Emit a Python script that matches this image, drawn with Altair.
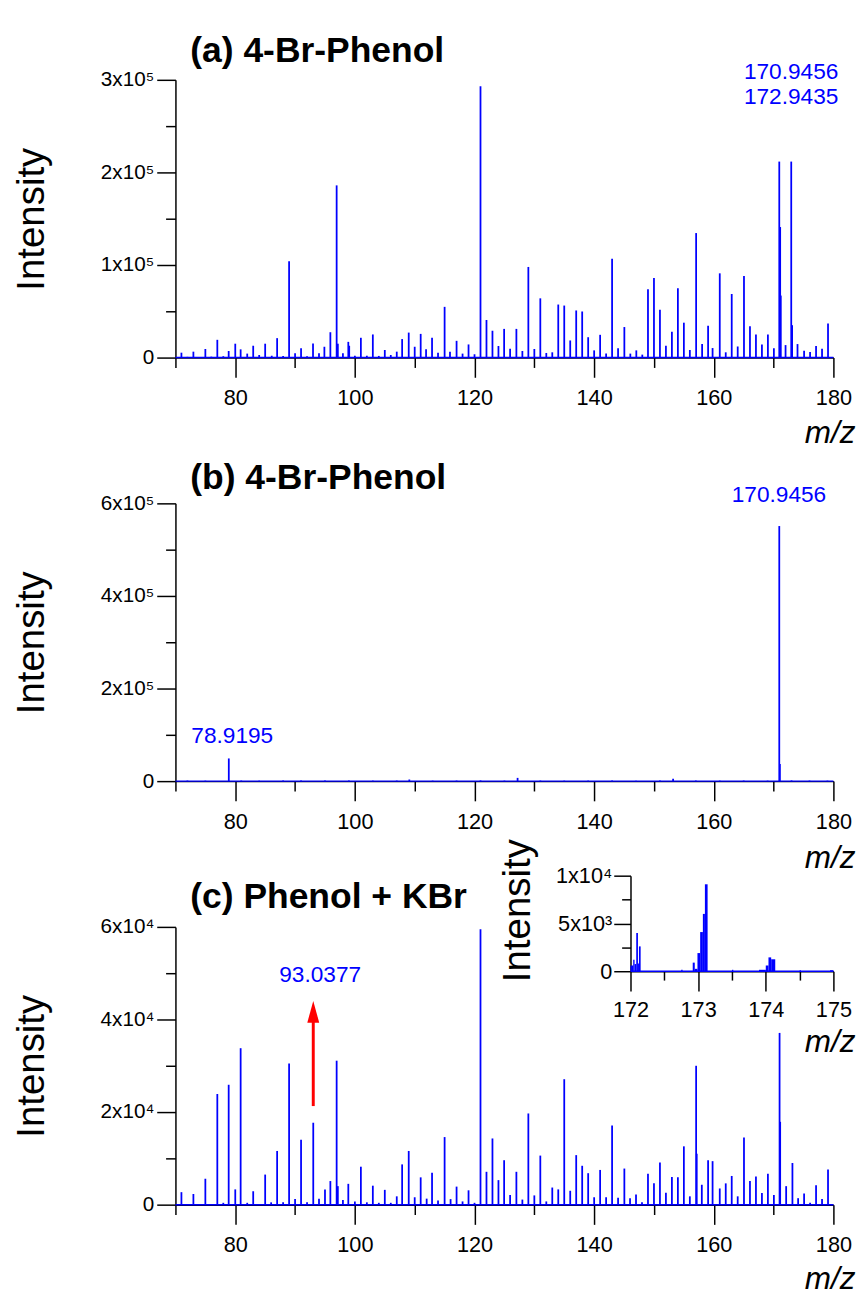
import altair as alt
import pandas as pd

BLUE = "#0000FF"
RED = "#FF0000"
FONT = "Liberation Sans, Arial, DejaVu Sans, sans-serif"

# ---------------- data ----------------
# panel (a) 4-Br-Phenol
a_mz = [71.0, 72.0, 73.0, 74.0, 75.0, 76.0, 77.0, 78.0, 78.9, 80.0, 80.9, 82.0, 83.0, 84.0, 85.0, 86.1, 87.0, 88.0,
        89.0, 90.0, 91.0, 92.0, 93.0, 94.0, 94.9, 95.9, 96.95, 97.15, 98.0, 98.9, 99.05, 100.0, 101.0, 102.0, 103.0,
        104.0, 105.0, 106.0, 107.0, 107.9, 109.0, 110.0, 111.0, 111.9, 112.9, 113.9, 115.0, 115.9, 117.0, 118.0,
        119.0, 120.0, 121.0, 122.0, 123.0, 124.0, 124.95, 125.95, 127.0, 128.0, 129.0, 130.0, 131.0, 132.0, 133.0,
        134.0, 135.0, 136.0, 137.0, 138.0, 139.0, 140.0, 141.0, 142.0, 143.0, 144.0, 145.05, 146.05, 147.05, 148.05,
        149.0, 150.0, 151.0, 152.0, 153.0, 154.0, 155.0, 156.0, 157.05, 158.05, 159.05, 159.8, 161.0, 162.0, 163.0,
        164.0, 165.05, 166.05, 167.05, 168.05, 169.05, 170.05, 170.95, 171.1, 171.2, 172.0, 172.95, 173.1, 174.0,
        175.1, 176.1, 177.1, 178.1, 179.1]
a_int = [5300, 800, 6400, 600, 9300, 1000, 19200, 1500, 7100, 15000, 8900, 4300, 12800, 2800, 15000, 2000, 21000, 1800,
         104000, 4600, 10000, 1400, 15300, 4600, 11700, 27400, 186000, 15000, 4600, 17000, 12800, 2000, 21400, 2000,
         25000, 1800, 8200, 2800, 6400, 20000, 27000, 11700, 25600, 8900, 21400, 5300, 54800, 6400, 18100, 4300,
         14200, 3600, 293000, 40600, 29000, 12500, 31000, 9500, 31000, 7100, 97900, 9300, 64000, 5000, 5700,
         57300, 56200, 18500, 50900, 49800, 22000, 7800, 24600, 4300, 106800, 10000, 33000, 4300, 7800, 3200,
         73700, 86000, 51600, 12800, 28000, 75000, 37700, 8200, 134500, 14600, 34500, 10300, 91000, 5700, 68700,
         12000, 88000, 33800, 24900, 14200, 24900, 10000, 211700, 141000, 67000, 13500, 211700, 35000, 14600,
         7500, 6000, 12500, 9600, 36700]
a_ann_mz = [180, 180]
a_ann_int = [308500, 281000]
a_ann_txt = ["170.9456", "172.9435"]

# panel (b) 4-Br-Phenol
b_mz = [72.0, 75.0, 78.92, 81.0, 84.0, 88.0, 91.0, 95.0, 99.0, 103.0, 107.0, 109.1, 113.0, 117.0, 121.0, 125.0,
        127.2, 131.0, 135.0, 139.0, 143.0, 147.0, 151.0, 153.2, 157.0, 161.0, 165.0, 169.0, 170.95, 171.05, 173.0,
        176.0, 179.0]
b_int = [1200, 1000, 49000, 1200, 1000, 1300, 1100, 1200, 1300, 1100, 1200, 3500, 1000, 1200, 1500, 1100,
         7000, 1200, 1000, 1100, 1300, 1000, 1200, 5000, 1300, 1100, 1200, 1000, 551000, 37000, 1500,
         1200, 1000]
b_ann_mz = [170.9, 79.5]
b_ann_int = [617000, 98000]
b_ann_txt = ["170.9456", "78.9195"]

# panel (c) Phenol + KBr
c_mz = [71.0, 73.0, 75.0, 77.0, 78.0, 78.9, 80.0, 80.9, 82.0, 83.0, 85.0, 86.0, 87.0, 88.0, 89.0, 90.0, 91.0, 92.0,
        93.04, 94.0, 95.0, 95.9, 96.95, 97.15, 98.0, 98.9, 100.0, 101.0, 102.0, 103.0, 104.0, 105.0, 106.0, 107.0,
        107.9, 109.0, 110.0, 111.0, 112.0, 112.9, 113.9, 115.0, 116.0, 117.0, 118.0, 119.0, 120.0, 121.0, 122.0,
        123.0, 124.0, 124.95, 125.95, 127.0, 128.0, 129.0, 130.0, 131.0, 132.0, 133.0, 134.0, 135.0, 136.0, 137.0,
        138.0, 139.0, 140.0, 141.0, 142.0, 143.0, 144.0, 145.05, 146.0, 147.0, 148.0, 149.0, 150.0, 151.0, 152.0,
        153.0, 154.0, 155.0, 156.0, 157.05, 157.15, 158.0, 159.05, 159.8, 161.0, 162.0, 163.0, 164.0, 165.05,
        166.05, 167.05, 168.05, 169.05, 170.05, 171.0, 171.1, 172.1, 173.15, 174.1, 175.1, 176.1, 177.1, 178.1,
        179.1]
c_int = [2700, 2300, 5600, 23900, 400, 25900, 3300, 33800, 400, 2900, 6500, 500, 11600, 500, 30500, 1200, 14000, 500,
         17700, 1300, 3300, 5100, 31100, 4000, 1000, 4500, 700, 8200, 500, 4100, 400, 3200, 400, 1800,
         8700, 11600, 1600, 5900, 1300, 6900, 900, 14600, 1200, 3900, 700, 3100, 400, 59500, 7100,
         14300, 5300, 9600, 2100, 7100, 1100, 19700, 2000, 10600, 700, 3700, 3300, 27100, 3000, 10700,
         8400, 6800, 1600, 7500, 1600, 17100, 1500, 7800, 1400, 2200, 500, 6700, 4600, 9100, 2600,
         6000, 5900, 12600, 1800, 30000, 11000, 4300, 9600, 9400, 3500, 4600, 6200, 1800, 14500,
         5100, 6100, 2500, 6700, 2100, 37100, 17900, 4000, 9000, 1400, 2400, 400, 4200, 1200,
         7600]
c_ann_mz = [94.2]
c_ann_int = [49500]
c_ann_txt = ["93.0377"]
arrow_mz = [93.04]
arrow_from = [21300]
arrow_to = [40500]
arrow_tip = [44000]

# inset of (c): m/z 172-175 profile segments
in_start = [172.00, 172.04, 172.06, 172.085, 172.11, 172.125, 172.75, 172.92, 172.95, 172.99, 173.03, 173.07,
            173.10, 173.50, 173.90, 174.00, 174.04, 174.08, 174.50, 174.95]
in_end = [172.04, 172.06, 172.085, 172.11, 172.125, 172.15, 172.77, 172.95, 172.99, 173.03, 173.07, 173.10,
          173.14, 173.52, 174.00, 174.04, 174.08, 174.14, 174.52, 175.00]
in_int = [600, 1200, 750, 4000, 800, 2600, 150, 900, 250, 1900, 4100, 6000,
          9100, 150, 150, 600, 1450, 1250, 100, 100]

# ---------------- helpers ----------------
XS = alt.Scale(domain=[70, 180], nice=False, zero=False)
W, H = 668, 282
TITLE_FS = 36
INT_FS = 39
ANN_FS = 23


def text_title(label, ty):
    return alt.Chart(pd.DataFrame({"t": [label]})).mark_text(
        align="left", baseline="middle", fontSize=TITLE_FS, fontWeight="bold", font=FONT, color="black"
    ).encode(text="t:N", x=alt.value(15), y=alt.value(ty))


def spectrum_layers(mz, inten, ymax, y_major, y_minor, y_expr, mz_title_y):
    ys = alt.Scale(domain=[0, ymax], nice=False, zero=True)
    df = pd.DataFrame({"mz": mz, "inten": inten})
    x_major = alt.Axis(orient="bottom", values=[80, 100, 120, 140, 160, 180], tickSize=20, labelPadding=11,
                       labelFontSize=22, format="d", labelFlush=False, labelOverlap=False, grid=False,
                       title="m/z", titleFontStyle="italic", titleFontSize=32, titleFontWeight="normal",
                       titleX=690, titleY=mz_title_y, titleAlign="right", titleBaseline="middle")
    y_major_ax = alt.Axis(orient="left", values=y_major, tickSize=19, labelExpr=y_expr, labelFontSize=21,
                          labelPadding=3, labelOverlap=False, labelFlush=False, grid=False,
                          title="Intensity", titleFontSize=INT_FS, titleFontWeight="normal",
                          titleX=-146, titleY=141, titleAngle=270, titleAlign="center", titleBaseline="middle")
    x_minor = alt.Axis(orient="bottom", values=[70, 90, 110, 130, 150, 170], tickSize=10, labels=False,
                       domain=False, grid=False, title=None)
    y_minor_ax = alt.Axis(orient="left", values=y_minor, tickSize=10, labels=False, domain=False, grid=False,
                          title=None)

    sticks = alt.Chart(df).mark_rule(color=BLUE, strokeWidth=1.8).encode(
        x=alt.X("mz:Q", scale=XS, axis=x_major),
        y=alt.Y("inten:Q", scale=ys, axis=y_major_ax),
        y2=alt.datum(0),
    )
    base = alt.Chart(pd.DataFrame({"mz": [70], "mz2": [180], "inten": [0]})).mark_rule(
        color=BLUE, strokeWidth=1.5
    ).encode(
        x=alt.X("mz:Q", scale=XS, axis=x_minor),
        x2="mz2:Q",
        y=alt.Y("inten:Q", scale=ys, axis=y_minor_ax),
    )
    return ys, [base, sticks]


def annotations(ys, mzs, ints, txts, align, dx):
    df = pd.DataFrame({"mz": mzs, "inten": ints, "label": txts})
    return alt.Chart(df).mark_text(align=align, baseline="middle", fontSize=ANN_FS, font=FONT, color=BLUE,
                                   dx=dx).encode(
        x=alt.X("mz:Q", scale=XS, axis=None),
        y=alt.Y("inten:Q", scale=ys, axis=None),
        text="label:N",
    )


# ---------------- panel (a) ----------------
ys_a, lay_a = spectrum_layers(a_mz, a_int, 300000, [0, 100000, 200000, 300000], [50000, 150000, 250000],
                              "datum.value == 0 ? '0' : format(datum.value / 100000, 'd') + 'x10⁵'", 76)
pa = alt.layer(
    *lay_a,
    annotations(ys_a, a_ann_mz, a_ann_int, a_ann_txt, "right", 5),
    text_title("(a) 4-Br-Phenol", -29),
).resolve_axis(x="independent", y="independent").properties(width=W, height=H)

# ---------------- panel (b) ----------------
ys_b, lay_b = spectrum_layers(b_mz, b_int, 600000, [0, 200000, 400000, 600000], [100000, 300000, 500000],
                              "datum.value == 0 ? '0' : format(datum.value / 100000, 'd') + 'x10⁵'", 78)
pb = alt.layer(
    *lay_b,
    annotations(ys_b, b_ann_mz, b_ann_int, b_ann_txt, "center", 0),
    text_title("(b) 4-Br-Phenol", -26),
).resolve_axis(x="independent", y="independent").properties(width=W, height=H)

# ---------------- panel (c) ----------------
ys_c, lay_c = spectrum_layers(c_mz, c_int, 60000, [0, 20000, 40000, 60000], [10000, 30000, 50000],
                              "datum.value == 0 ? '0' : format(datum.value / 10000, 'd') + 'x10⁴'", 75)
arrow_df = pd.DataFrame({"mz": arrow_mz, "y0": arrow_from, "y1": arrow_to, "tip": arrow_tip})
arrow_shaft = alt.Chart(arrow_df).mark_rule(color=RED, strokeWidth=3).encode(
    x=alt.X("mz:Q", scale=XS, axis=None),
    y=alt.Y("y0:Q", scale=ys_c, axis=None),
    y2="y1:Q",
)
arrow_head = alt.Chart(arrow_df).mark_point(
    shape="M0,0L0.55,2L-0.55,2Z", filled=True, color=RED, opacity=1, size=484, strokeWidth=0
).encode(
    x=alt.X("mz:Q", scale=XS, axis=None),
    y=alt.Y("tip:Q", scale=ys_c, axis=None),
)
main_c = alt.layer(
    *lay_c,
    arrow_shaft,
    arrow_head,
    annotations(ys_c, c_ann_mz, c_ann_int, c_ann_txt, "center", 0),
    text_title("(c) Phenol + KBr", -30),
).resolve_axis(x="independent", y="independent")

XI = alt.Scale(domain=[172, 175], range=[462, 668], nice=False, zero=False)
YI = alt.Scale(domain=[0, 10000], range=[45, -52], nice=False, zero=True)
in_df = pd.DataFrame({"s": in_start, "e": in_end, "v": in_int})
inset_x_major = alt.Axis(orient="bottom", offset=-237, values=[172, 173, 174, 175], tickSize=20, labelPadding=9,
                         labelFontSize=22, format="d", labelFlush=False, labelOverlap=False, grid=False,
                         title="m/z", titleFontStyle="italic", titleFontSize=32, titleFontWeight="normal",
                         titleX=690, titleY=72, titleAlign="right", titleBaseline="middle")
inset_y_major = alt.Axis(orient="left", offset=-462, values=[0, 5000, 10000], tickSize=17, labelPadding=2,
                         labelFontSize=22, labelOverlap=False, labelFlush=False, grid=False,
                         labelExpr="datum.value == 0 ? '0' : (datum.value == 5000 ? '5x10³' : '1x10⁴')",
                         title="Intensity", titleFontSize=INT_FS, titleFontWeight="normal",
                         titleX=-115, titleY=-17, titleAngle=270, titleAlign="center", titleBaseline="middle")
inset_x_minor = alt.Axis(orient="bottom", offset=-237, values=[172.5, 173.5, 174.5], tickSize=9, labels=False,
                         domain=False, grid=False, title=None)
inset_y_minor = alt.Axis(orient="left", offset=-462, values=[2500, 7500], tickSize=9, labels=False,
                         domain=False, grid=False, title=None)
inset_base = alt.Chart(pd.DataFrame({"s": [172], "e": [175], "v": [0]})).mark_rule(
    color=BLUE, strokeWidth=1.5
).encode(
    x=alt.X("s:Q", scale=XI, axis=inset_x_minor),
    x2="e:Q",
    y=alt.Y("v:Q", scale=YI, axis=inset_y_minor),
)
inset_bars = alt.Chart(in_df).mark_rect(color=BLUE).encode(
    x=alt.X("s:Q", scale=XI, axis=inset_x_major),
    x2="e:Q",
    y=alt.Y("v:Q", scale=YI, axis=inset_y_major),
    y2=alt.datum(0),
)
inset = alt.layer(inset_base, inset_bars).resolve_axis(x="independent", y="independent")

pc = alt.layer(main_c, inset).resolve_scale(x="independent", y="independent").properties(width=W, height=H)

chart = alt.vconcat(pa, pb, pc, spacing=148).properties(
    bounds="flush",
    padding={"left": 5, "top": 16, "right": 5, "bottom": 5},
).configure(
    font=FONT, background="white"
).configure_view(
    stroke=None
).configure_axis(
    domainColor="black", tickColor="black", labelColor="black", titleColor="black",
    domainWidth=1.5, tickWidth=1.5, grid=False, labelFont=FONT, titleFont=FONT,
)

chart.save("out.html", embed_options={"renderer": "svg", "actions": False})
